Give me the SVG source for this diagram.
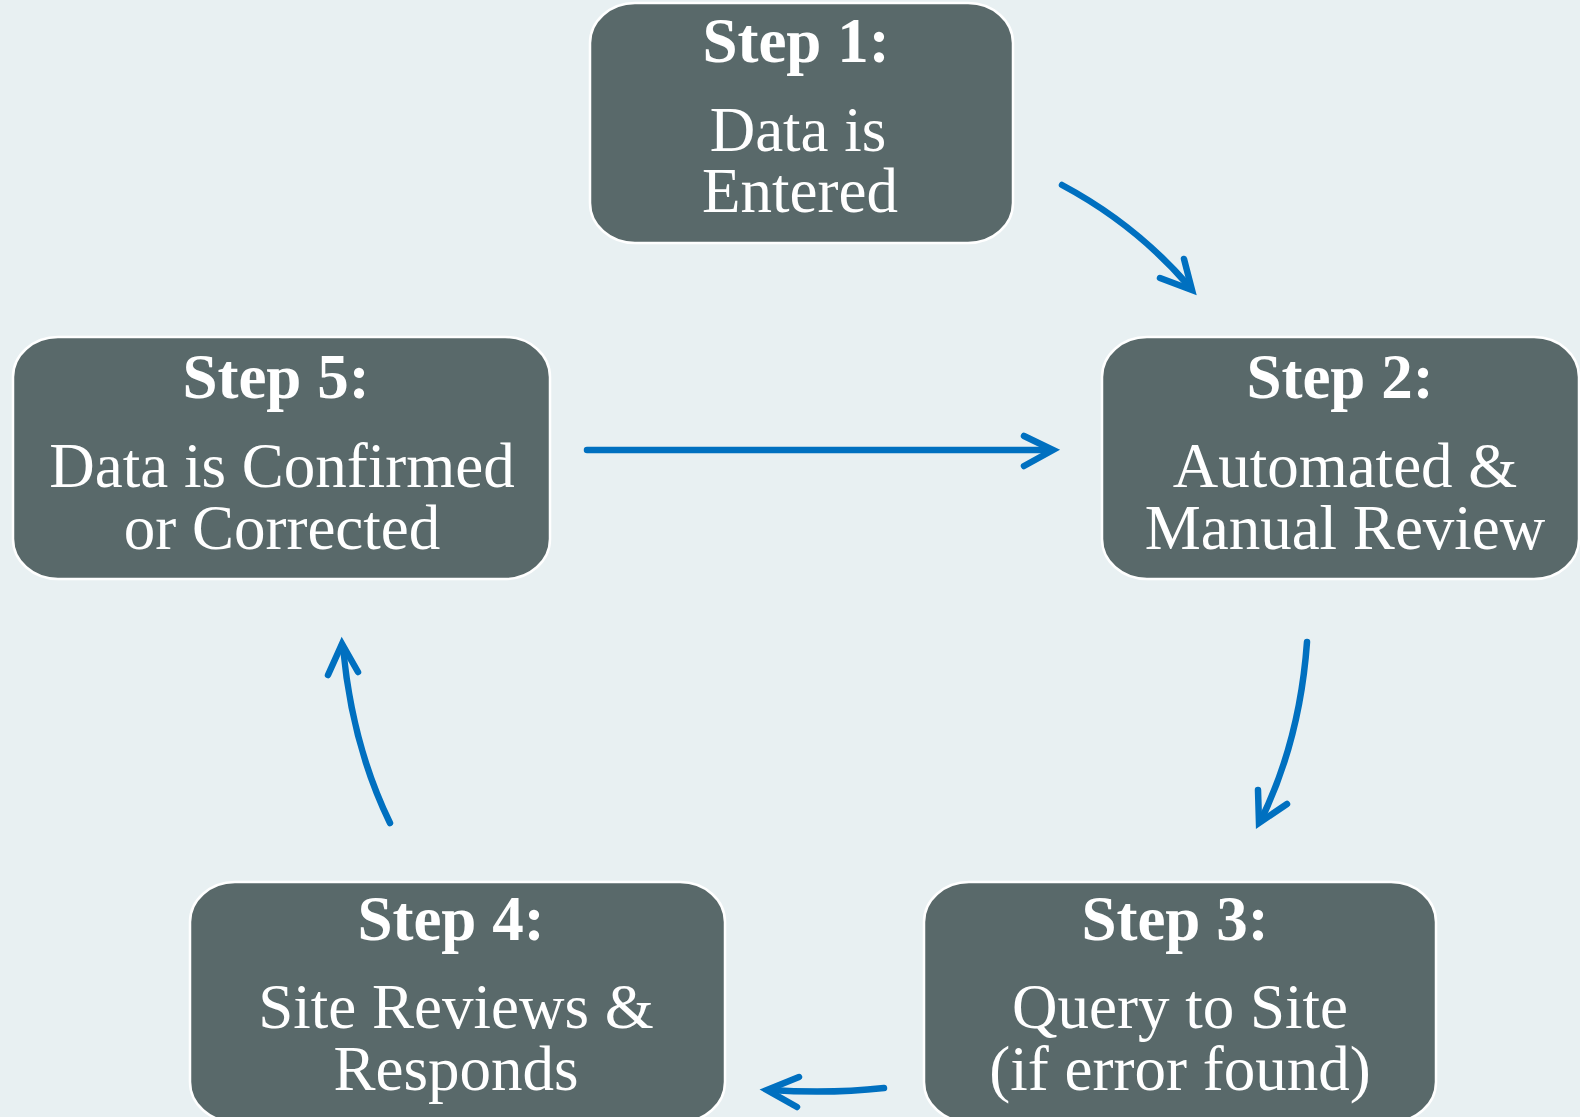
<svg xmlns="http://www.w3.org/2000/svg" width="1580" height="1117" viewBox="0 0 1580 1117">
<style>
.box{fill:#59696a;stroke:#ffffff;stroke-width:2.5}
.t{font-family:"Liberation Serif","DejaVu Serif",serif;fill:#ffffff;text-anchor:middle;font-size:63px}
.h{font-weight:bold}
.c{fill:none;stroke:#0070c0;stroke-width:6.5;stroke-linecap:round;stroke-linejoin:miter}
</style>
<rect width="1580" height="1117" fill="#e8f0f2"/>
<g id="step1">
<rect class="box" x="590" y="3" width="423" height="240" rx="45" ry="40"/>
<text class="t h" x="796" y="62">Step 1:</text>
<text class="t" x="798" y="151">Data is</text>
<text class="t" x="800" y="212">Entered</text>
</g>
<g id="step2">
<rect class="box" x="1102" y="337" width="477" height="242" rx="45" ry="40"/>
<text class="t h" x="1340" y="398">Step 2:</text>
<text class="t" x="1345" y="487">Automated &amp;</text>
<text class="t" x="1345" y="549">Manual Review</text>
</g>
<g id="step3">
<rect class="box" x="924" y="882" width="512" height="240" rx="45" ry="40"/>
<text class="t h" x="1175" y="940">Step 3:</text>
<text class="t" x="1180" y="1028">Query to Site</text>
<text class="t" x="1180" y="1090">(if error found)</text>
</g>
<g id="step4">
<rect class="box" x="190" y="882" width="535" height="240" rx="45" ry="40"/>
<text class="t h" x="451" y="940">Step 4:</text>
<text class="t" x="456" y="1028">Site Reviews &amp;</text>
<text class="t" x="456" y="1090">Responds</text>
</g>
<g id="step5">
<rect class="box" x="13" y="337" width="537" height="242" rx="45" ry="40"/>
<text class="t h" x="276" y="398">Step 5:</text>
<text class="t" x="282" y="487">Data is Confirmed</text>
<text class="t" x="282" y="549">or Corrected</text>
</g>
<g id="connectors">
<path class="c" d="M1062,185 Q1135,224 1188,285"/>
<polyline class="c" points="1160,278 1192,290 1184,259"/>
<path class="c" d="M587,450 L1050,450"/>
<polyline class="c" points="1024,436 1053,450 1024,466"/>
<path class="c" d="M1307,642 Q1300,740 1261,820"/>
<polyline class="c" points="1258,790 1259,823 1287,804"/>
<path class="c" d="M884,1088 Q830,1094 770,1090"/>
<polyline class="c" points="799,1077 767,1090 797,1107"/>
<path class="c" d="M390,823 Q352,745 343,647"/>
<polyline class="c" points="328,675 342,644 358,672"/>
</g>
</svg>
